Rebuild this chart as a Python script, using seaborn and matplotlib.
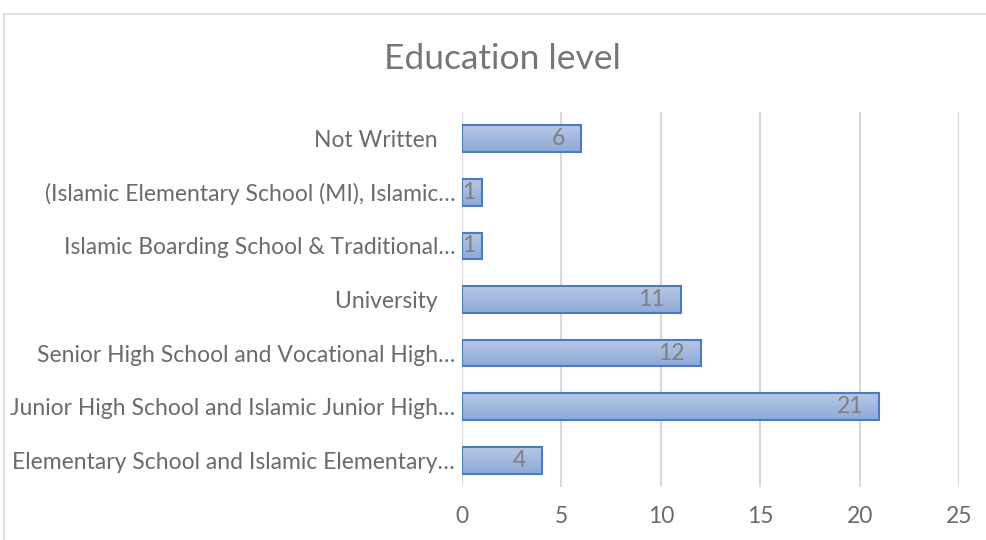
import matplotlib
matplotlib.use("Agg")
import matplotlib.pyplot as plt
import seaborn as sns
import pandas as pd
import numpy as np
from matplotlib.colors import LinearSegmentedColormap

categories = [
    "Not Written   ",
    "(Islamic Elementary School (MI), Islamic…",
    "Islamic Boarding School & Traditional…",
    "University   ",
    "Senior High School and Vocational High…",
    "Junior High School and Islamic Junior High…",
    "Elementary School and Islamic Elementary…",
]
counts = [6, 1, 1, 11, 12, 21, 4]
x_ticks = [0, 5, 10, 15, 20, 25]

df = pd.DataFrame({"level": categories, "count": counts})

sns.set_style("white")
plt.rcParams["font.family"] = ["Lato", "DejaVu Sans"]
grey = "#6b6b6b"

fig = plt.figure(figsize=(9.87, 5.4), dpi=100)
ax = fig.add_axes([462 / 987, 1 - 487 / 540, (959 - 462) / 987, (487 - 112) / 540])

sns.barplot(data=df, y="level", x="count", orient="h", ax=ax, width=0.5,
            color="#a2b8de", edgecolor="#4a7bc4", linewidth=1.5, zorder=3)

# soft vertical gradient inside each bar
cmap = LinearSegmentedColormap.from_list("bar", ["#b6c7e5", "#8eaad8"])
grad = np.linspace(0, 1, 64).reshape(-1, 1)
for p in ax.patches:
    x0, y0 = p.get_x(), p.get_y()
    w, h = p.get_width(), p.get_height()
    im = ax.imshow(grad, cmap=cmap, aspect="auto", extent=(x0, x0 + w, y0 + h, y0),
                   origin="upper", zorder=3.5)
    im.set_clip_path(p)
    p.set_zorder(3.6)
    p.set_facecolor("none")

ax.set_xlim(0, 25)
ax.set_ylim(len(categories) - 0.5, -0.5)
ax.set_xticks(x_ticks)
ax.grid(axis="x", color="#d9d9d9", linewidth=1.5, zorder=0)
ax.set_axisbelow(True)
for s in ax.spines.values():
    s.set_visible(False)
ax.set_xlabel("")
ax.set_ylabel("")
ax.tick_params(axis="both", length=0, labelsize=16.5, labelcolor=grey)
ax.tick_params(axis="x", pad=14)
ax.tick_params(axis="y", pad=5)

for i, v in enumerate(counts):
    if v > 2:
        ax.text(v - 0.8, i, str(v), ha="right", va="center", fontsize=16.5, color="#7f7f7f", zorder=5)
    else:
        ax.text(0.0, i, str(v), ha="left", va="center", fontsize=16.5, color="#7f7f7f", zorder=5)

fig.text(502 / 987, 1 - 59 / 540, "Education level", ha="center", va="center", fontsize=25.5, color="#767676")

# chart frame
fig.patches.append(plt.Rectangle((4 / 987, -0.1), 1.1, 1 - 14 / 540 + 0.1, transform=fig.transFigure,
                                 fill=False, edgecolor="#d9d9d9", linewidth=1.2))

fig.savefig("out.png", dpi=100)
